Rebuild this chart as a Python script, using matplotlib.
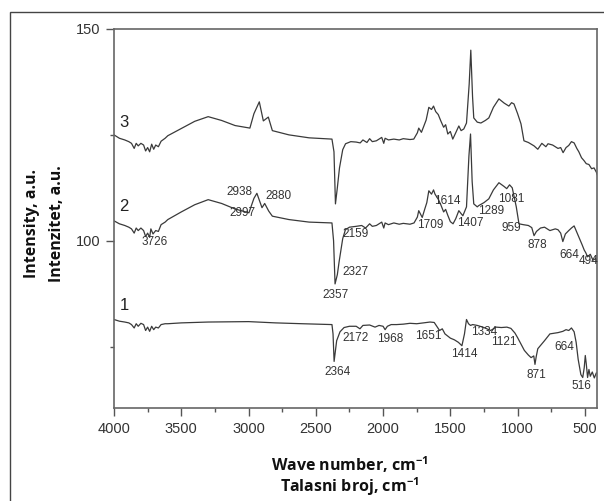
import matplotlib
matplotlib.use("Agg")
import matplotlib.pyplot as plt
from matplotlib.patches import Rectangle
from matplotlib.ticker import MultipleLocator

# ---- data ----
wn3 = [4000, 3960, 3920, 3890, 3870, 3850, 3835, 3820, 3800, 3780, 3765, 3750, 3735, 3720,
       3705, 3690, 3670, 3650, 3620, 3600, 3500, 3400, 3300, 3200, 3100, 2990, 2960, 2920,
       2890, 2853, 2823, 2700, 2550, 2380, 2365, 2354, 2340, 2324, 2300, 2279, 2240, 2200,
       2170, 2150, 2120, 2100, 2080, 2050, 2010, 1995, 1985, 1960, 1920, 1880, 1850, 1800,
       1772, 1745, 1735, 1715, 1698, 1680, 1660, 1640, 1625, 1609, 1590, 1571, 1550, 1535,
       1519, 1500, 1482, 1460, 1437, 1420, 1400, 1380, 1360, 1348, 1335, 1326, 1300, 1273,
       1240, 1214, 1180, 1139, 1100, 1065, 1045, 1027, 1000, 975, 953, 920, 878, 850, 820,
       790, 774, 740, 700, 680, 662, 640, 620, 600, 580, 560, 545, 525, 506, 490, 470, 450,
       432, 415, 400]
int3 = [125.0, 124.2, 123.8, 123.4, 123.0, 121.8, 123.0, 122.4, 123.0, 122.6, 121.2, 122.0,
        121.0, 122.8, 121.6, 122.6, 122.2, 123.5, 124.2, 124.8, 126.5, 128.2, 129.3, 128.4,
        127.2, 126.6, 130.0, 132.8, 128.3, 129.2, 126.0, 125.0, 124.3, 124.0, 121.0, 108.7,
        112.5, 117.2, 121.5, 122.9, 123.4, 123.3, 123.1, 123.8, 123.2, 124.1, 123.4, 123.6,
        124.4, 123.0, 124.2, 123.8, 124.0, 123.8, 124.1, 123.9, 124.0, 125.5, 126.6, 125.6,
        127.0, 128.5, 131.5, 131.0, 131.8, 130.5, 129.8, 128.3, 126.8, 127.4, 125.2, 125.8,
        124.0, 125.5, 127.1, 126.0, 126.4, 127.8, 137.0, 145.0, 134.0, 129.0, 128.0, 127.8,
        128.4, 129.0, 131.5, 133.5, 132.5, 131.8, 132.6, 132.3, 130.0, 127.6, 123.6, 123.2,
        122.4, 121.6, 123.0, 122.2, 122.9, 122.6, 121.8, 122.0, 120.8, 122.0, 122.5, 123.4,
        123.1, 121.8, 121.0, 119.6, 118.9, 118.2, 118.0, 117.0, 117.2, 116.2, 114.9]

wn2 = [4000, 3960, 3920, 3890, 3870, 3850, 3835, 3820, 3800, 3780, 3765, 3750, 3735, 3726,
       3710, 3690, 3670, 3650, 3620, 3600, 3500, 3400, 3300, 3200, 3100, 2997, 2960, 2938,
       2900, 2880, 2850, 2823, 2700, 2550, 2380, 2368, 2357, 2340, 2327, 2300, 2280, 2250,
       2200, 2159, 2130, 2100, 2080, 2050, 2010, 1995, 1985, 1960, 1920, 1880, 1850, 1800,
       1770, 1745, 1735, 1709, 1690, 1675, 1660, 1640, 1625, 1614, 1590, 1571, 1550, 1535,
       1519, 1500, 1480, 1460, 1437, 1420, 1407, 1380, 1362, 1350, 1338, 1326, 1300, 1289,
       1250, 1214, 1180, 1139, 1100, 1081, 1060, 1040, 1010, 990, 959, 920, 895, 878, 860,
       830, 800, 760, 720, 700, 680, 664, 645, 620, 600, 580, 560, 540, 520, 505, 494, 480,
       460, 440, 420, 400]
int2 = [104.7, 104.0, 103.6, 103.2, 102.8, 101.8, 103.0, 102.4, 103.0, 102.4, 101.0, 101.8,
        100.8, 102.8, 101.6, 102.4, 102.2, 103.8, 104.4, 105.0, 106.8, 108.5, 109.7, 108.8,
        107.5, 106.6, 110.0, 111.2, 107.8, 108.8, 107.0, 105.8, 105.0, 104.4, 104.2, 100.0,
        89.8, 92.0, 95.0, 100.5, 102.6, 103.2, 103.4, 103.6, 103.0, 104.0, 103.4, 103.6,
        104.4, 103.0, 104.2, 103.8, 104.2, 103.9, 104.1, 103.9, 104.2, 105.6, 107.1, 105.5,
        107.5, 109.0, 111.8, 111.0, 112.0, 111.0, 109.8, 108.5, 106.8, 107.4, 106.0, 104.5,
        104.0, 105.2, 107.1, 106.4, 105.9, 108.0, 120.0, 125.2, 114.0, 108.7, 108.0, 108.3,
        109.0, 109.9, 112.0, 113.7, 112.8, 112.3, 113.2, 112.5, 108.0, 104.0, 103.8, 103.6,
        103.1, 101.2, 102.2, 103.0, 103.2, 102.4, 102.8, 102.6, 101.8, 99.8, 101.6, 102.4,
        103.0, 103.5, 102.0, 100.5, 99.0, 97.8, 97.2, 96.2, 96.8, 95.4, 95.8, 94.6]

wn1 = [4000, 3960, 3920, 3890, 3870, 3850, 3835, 3820, 3800, 3780, 3765, 3750, 3735, 3720,
       3705, 3690, 3670, 3650, 3620, 3600, 3500, 3300, 3000, 2800, 2600, 2380, 2372, 2364,
       2345, 2320, 2290, 2250, 2200, 2172, 2150, 2100, 2060, 2030, 2000, 1985, 1968, 1940,
       1900, 1850, 1800, 1750, 1700, 1651, 1620, 1580, 1560, 1540, 1500, 1470, 1440, 1414,
       1395, 1380, 1365, 1350, 1334, 1300, 1250, 1200, 1160, 1121, 1080, 1050, 1020, 1000,
       975, 950, 920, 900, 880, 871, 862, 850, 800, 760, 720, 700, 664, 640, 620, 600, 580,
       565, 550, 530, 516, 505, 497, 490, 480, 470, 460, 445, 430, 415, 400]
int1 = [81.4, 81.0, 80.8, 80.6, 80.2, 79.4, 80.4, 79.8, 80.5, 80.2, 78.8, 79.6, 78.6, 79.8,
        79.0, 79.6, 79.4, 80.2, 80.4, 80.4, 80.6, 80.8, 80.9, 80.6, 80.4, 80.2, 78.0, 71.5,
        76.4, 78.5, 79.5, 79.8, 79.8, 79.2, 80.0, 80.1, 79.6, 80.0, 79.8, 79.0, 79.8, 80.2,
        80.2, 80.3, 80.5, 80.4, 80.6, 80.8, 80.7, 78.8, 79.2, 78.0, 77.0, 76.6, 76.0, 75.2,
        78.0, 81.4, 80.4, 80.0, 80.2, 80.0, 79.5, 78.8, 79.6, 79.5, 79.6, 79.3, 78.2, 77.1,
        75.6, 74.1, 73.0, 72.4, 72.8, 70.8, 72.6, 74.5, 76.4, 78.0, 78.2, 78.3, 78.6, 79.0,
        78.8, 79.4, 78.5, 76.0, 72.0, 68.4, 67.7, 70.0, 72.9, 71.0, 67.7, 69.6, 68.0, 69.0,
        67.6, 68.8, 68.6]

curve_names = ["1", "2", "3"]
curve_label_pos = [(3925, 84.6), (3925, 108.0), (3925, 128.0)]

peak_labels = ["3726", "2997", "2938", "2880", "2357", "2327", "2159", "1709", "1614",
               "1407", "1289", "1081", "959", "878", "664", "494",
               "2364", "2172", "1968", "1651", "1414", "1334", "1121", "871", "664", "516"]
peak_x = [3700, 3046, 3065, 2775, 2352, 2205, 2205, 1650, 1525,
          1350, 1200, 1050, 1050, 850, 618, 472,
          2340, 2205, 1951, 1661, 1400, 1251, 1102, 864, 652, 528]
peak_y = [99.8, 106.6, 111.5, 110.6, 87.3, 92.5, 101.6, 103.8, 109.4,
          104.2, 107.0, 109.9, 103.0, 99.0, 96.7, 95.3,
          68.9, 77.1, 76.9, 77.4, 73.3, 78.5, 76.2, 68.2, 74.8, 65.8]

x_ticks = [4000, 3500, 3000, 2500, 2000, 1500, 1000, 500]
y_ticks = [100, 150]

# ---- figure ----
fig = plt.figure(figsize=(6.04, 5.01), dpi=100)
fig.patches.append(Rectangle((10 / 604, -0.1), 1.2, 1 - 12 / 501 + 0.1,
                             transform=fig.transFigure, fill=False,
                             edgecolor="#444444", linewidth=1.0))
ax = fig.add_axes([114 / 604, 1 - 408 / 501, (597 - 114) / 604, (408 - 29) / 501])

line_color = "#3a3a3a"
for wn, it in [(wn1, int1), (wn2, int2), (wn3, int3)]:
    ax.plot(wn, it, color=line_color, linewidth=0.9)

ax.set_xlim(4000, 410)
ax.set_ylim(60.5, 150)
ax.set_xticks(x_ticks)
ax.set_yticks(y_ticks)
ax.xaxis.set_minor_locator(MultipleLocator(250))
ax.yaxis.set_minor_locator(MultipleLocator(25))
ax.tick_params(which="both", direction="out", color="#555555", width=1.0)
ax.tick_params(which="major", length=6, labelsize=10.5, labelcolor="#333333", pad=4)
ax.tick_params(which="minor", length=3)
for lab in ax.get_xticklabels() + ax.get_yticklabels():
    lab.set_fontfamily("Liberation Sans")
for sp in ax.spines.values():
    sp.set_color("#666666")
    sp.set_linewidth(1.2)

for name, (x, y) in zip(curve_names, curve_label_pos):
    ax.text(x, y, name, fontsize=12, color="#222222", ha="center", va="center",
            family="Liberation Sans")

for t, x, y in zip(peak_labels, peak_x, peak_y):
    ax.text(x, y, t, fontsize=8.5, color="#333333", ha="center", va="center",
            family="Liberation Sans")

fig.text(32 / 604, 1 - 224 / 501, "Intensity, a.u.", rotation=90, ha="center", va="center",
         fontsize=11.5, fontweight="bold", family="Open Sans", color="#111111")
fig.text(57 / 604, 1 - 224 / 501, "Intenzitet, a.u.", rotation=90, ha="center", va="center",
         fontsize=11.5, fontweight="bold", family="Open Sans", color="#111111")
fig.text(350 / 604, 1 - 465 / 501, "Wave number, cm$^{\\mathregular{-1}}$", ha="center",
         va="center", fontsize=11.5, fontweight="bold", family="Open Sans", color="#111111")
fig.text(350 / 604, 1 - 487 / 501, "Talasni broj, cm$^{\\mathregular{-1}}$", ha="center",
         va="center", fontsize=11.5, fontweight="bold", family="Open Sans", color="#111111")

fig.savefig("out.png", dpi=100)
